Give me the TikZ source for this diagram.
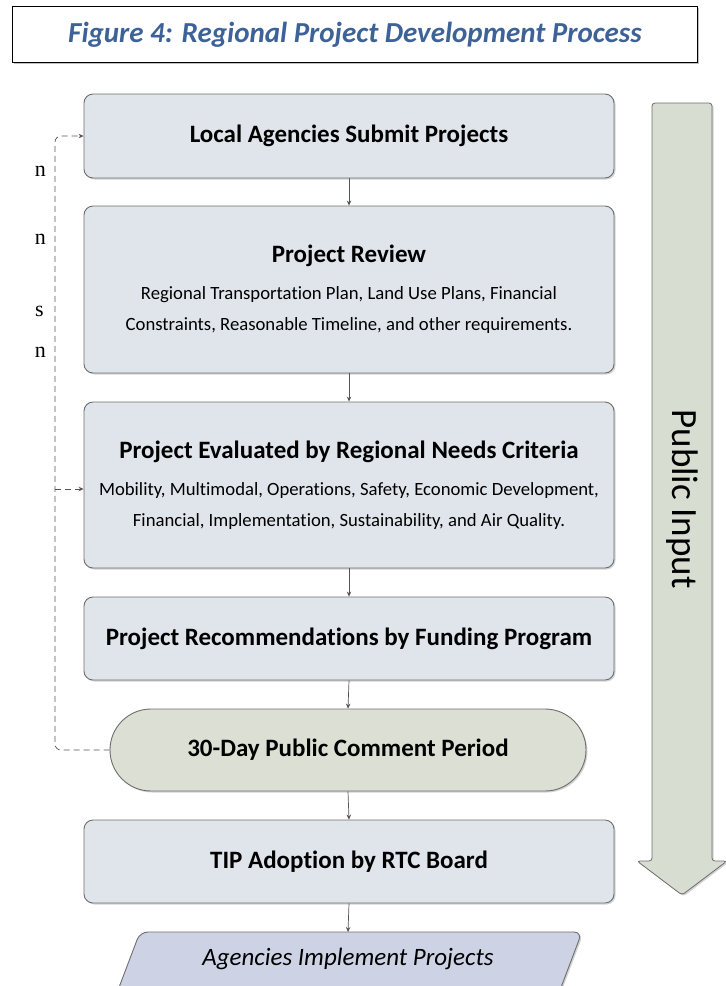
\documentclass[tikz,border=0pt]{standalone}
\usepackage{fontspec}
\setmainfont{Carlito}[Ligatures=NoCommon]
\newfontfamily\serifface{Liberation Serif}
\usetikzlibrary{shapes.misc,arrows.meta,shadows}
\definecolor{boxfill}{HTML}{DFE5EB}
\definecolor{boxline}{HTML}{6E6E6E}
\definecolor{greenfill}{HTML}{DCE0D4}
\definecolor{implfill}{HTML}{CDD3E4}
\definecolor{titleblue}{HTML}{3D6298}
\definecolor{arrowfill}{HTML}{D8DDD2}
\definecolor{conn}{HTML}{555555}
\newcommand\bigtitle{\fontsize{25}{24}\selectfont\bfseries}
\newcommand\bodytext{\fontsize{18.7}{24}\selectfont\mdseries}
\tikzset{
  procbox/.style={draw=boxline, line width=0.9pt, fill=boxfill, rounded corners=9pt,
    minimum width=530pt, align=center, inner sep=0pt,
    drop shadow={shadow xshift=1.5pt, shadow yshift=-1.5pt, opacity=0.35}},
  boxtitle/.style={font=\bigtitle},
  flow/.style={draw=conn, line width=0.7pt, -{Stealth[length=5pt,width=4.5pt]}},
  feedback/.style={draw=conn, line width=0.7pt, dash pattern=on 6pt off 4pt, rounded corners=6pt},
  frag/.style={font=\serifface\fontsize{22}{24}\selectfont, anchor=base east, inner sep=0pt}
}
\begin{document}
\begin{tikzpicture}[x=1pt,y=-1pt]
\useasboundingbox (0,0) rectangle (726,986);
% title
\node[draw=black, line width=1.4pt, minimum width=685pt, minimum height=56pt,
  font=\fontsize{29}{32}\selectfont\bfseries\itshape, text=titleblue,
  drop shadow={shadow xshift=1.2pt, shadow yshift=-1.2pt, opacity=0.5}, fill=white]
  (title) at (355,34.5) {Figure 4: Regional Project Development Process};
% text fragments at left
\node[frag] (f1) at (46,176) {n};
\node[frag] (f2) at (46,244) {n};
\node[frag] (f3) at (44,316) {s};
\node[frag] (f4) at (46,357) {n};
% public input arrow
\draw[draw=boxline, line width=0.8pt, fill=arrowfill, rounded corners=3pt,
  drop shadow={shadow xshift=1.5pt, shadow yshift=-1.5pt, opacity=0.35}]
  (652,103) -- (712,103) -- (712,861) -- (727,861) -- (682,895) -- (637,861) -- (652,861) -- cycle;
\node[rotate=-90, font=\fontsize{37}{40}\selectfont] (pub) at (682,499) {Public Input};
% process boxes
\node[procbox, minimum height=84pt, boxtitle] (b1) at (349,136) {Local Agencies Submit Projects};
\node[procbox, minimum height=167pt, font=\bigtitle] (b2) at (349,289.5)
  {Project Review\\[13pt]
   \bodytext Regional Transportation Plan, Land Use Plans, Financial\\[7pt]
   \bodytext Constraints, Reasonable Timeline, and other requirements.};
\node[procbox, minimum height=166pt, font=\bigtitle] (b3) at (349,485)
  {Project Evaluated by Regional Needs Criteria\\[13pt]
   \bodytext Mobility, Multimodal, Operations, Safety, Economic Development,\\[7pt]
   \bodytext Financial, Implementation, Sustainability, and Air Quality.};
\node[procbox, minimum height=83pt, boxtitle] (b4) at (349,638.5) {Project Recommendations by Funding Program};
\node[draw=boxline, line width=0.9pt, fill=greenfill, rounded rectangle,
  minimum width=476pt, minimum height=82pt, inner sep=0pt, boxtitle,
  drop shadow={shadow xshift=1.5pt, shadow yshift=-1.5pt, opacity=0.35}]
  (c30) at (348,750) {30-Day Public Comment Period};
\node[procbox, minimum height=83pt, boxtitle] (b6) at (349,861.5) {TIP Adoption by RTC Board};
% final parallelogram
\draw[draw=boxline, line width=0.9pt, fill=implfill, rounded corners=8pt,
  drop shadow={shadow xshift=1.5pt, shadow yshift=-1.5pt, opacity=0.35}]
  (140,932) -- (582,932) -- (557,998) -- (115,998) -- cycle;
\node[font=\fontsize{25}{28}\selectfont\itshape, inner sep=0pt] (impl) at (348,959) {Agencies Implement Projects};
\coordinate (implTop) at (348,932);
% flow arrows
\draw[flow] (b1.south) -- (b2.north);
\draw[flow] (b2.south) -- (b3.north);
\draw[flow] (b3.south) -- (b4.north);
\draw[flow] (b4.south) -- (c30.north);
\draw[flow] (c30.south) -- (b6.north);
\draw[flow] (b6.south) -- (implTop);
% feedback loop
\coordinate (fbA) at (55,750);
\coordinate (fbB) at (55,136);
\coordinate (fbC) at (55,489);
\draw[feedback, -{Stealth[length=5pt,width=4.5pt]}] (c30.west) -- (fbA) -- (fbB) -- (b1.west);
\draw[feedback, -{Stealth[length=5pt,width=4.5pt]}] (fbC) -- (b3.west |- fbC);
\end{tikzpicture}
\end{document}
